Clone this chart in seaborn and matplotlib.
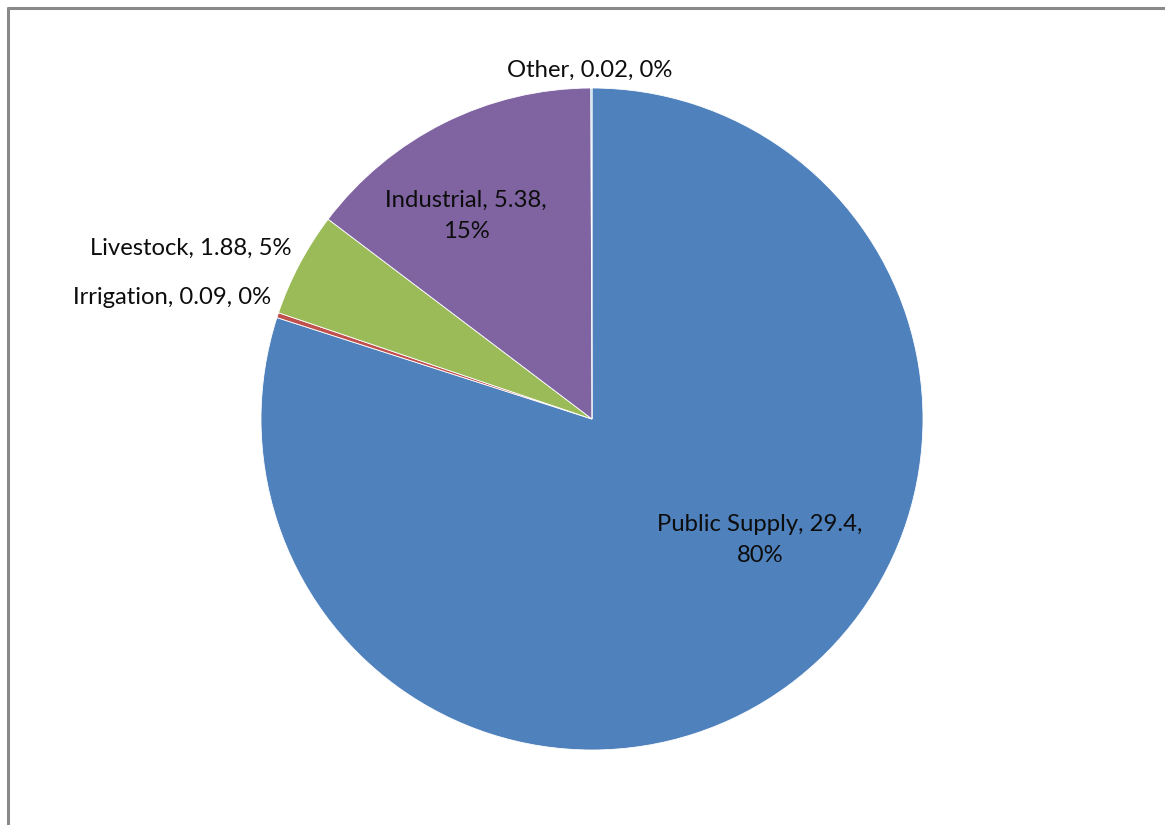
import matplotlib
matplotlib.use("Agg")
import matplotlib.pyplot as plt
import seaborn as sns
from matplotlib.lines import Line2D

categories = ["Public Supply", "Irrigation", "Livestock", "Industrial", "Other"]
values = [29.4, 0.09, 1.88, 5.38, 0.02]
colors = ["#4F81BD", "#C0504D", "#9BBB59", "#8064A2", "#4BACC6"]

sns.set_theme(style="white")
plt.rcParams["font.family"] = ["Lato", "DejaVu Sans"]

W, H = 1165, 825
fig = plt.figure(figsize=(W / 100, H / 100), dpi=100)
ax = fig.add_axes([0, 0, 1, 1])
ax.set_xlim(0, W)
ax.set_ylim(0, H)
ax.set_aspect("equal")
ax.axis("off")

cx, cy, r = 592, H - 419, 331
ax.pie(values, colors=colors, startangle=90, counterclock=False,
       center=(cx, cy), radius=r, frame=False,
       wedgeprops=dict(edgecolor="white", linewidth=0.6))
ax.set_xlim(0, W)
ax.set_ylim(0, H)

total = sum(values)
labels = [f"{c}, {v:g}, {round(v / total * 100):.0f}%" for c, v in zip(categories, values)]

fs = 17.2
# label placements (pixel coordinates from top-left)
def put(text, x, y, ha="center"):
    ax.text(x, H - y, text, ha=ha, va="center", fontsize=fs, color="#0d0d0d",
            linespacing=1.56)

put(labels[0].replace("29.4, ", "29.4,\n"), 760, 540)
put(labels[1], 271, 298, ha="right")
put(labels[2], 291, 248, ha="right")
put(labels[3].replace("5.38, ", "5.38,\n"), 466, 216)
put(labels[4], 590, 70)

# chart frame (left and top edges)
fig.add_artist(Line2D([7.5 / W, 7.5 / W], [0, 1 - 8 / H], transform=fig.transFigure,
                      color="#8a8a8a", linewidth=2.2))
fig.add_artist(Line2D([7.5 / W, 1], [1 - 8 / H, 1 - 8 / H], transform=fig.transFigure,
                      color="#8a8a8a", linewidth=2.2))

fig.savefig("out.png", dpi=100, facecolor="white")
